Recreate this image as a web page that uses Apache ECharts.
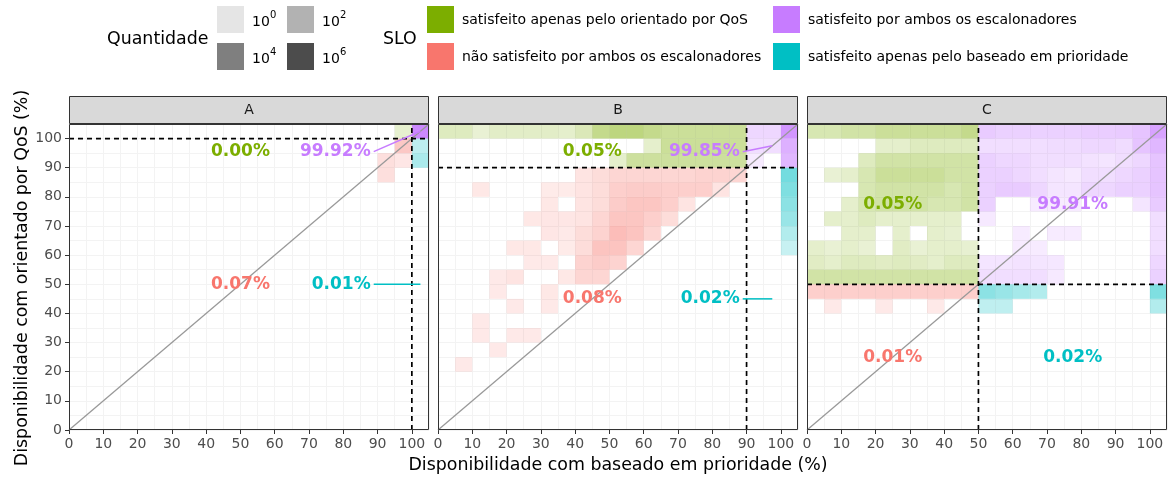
<!DOCTYPE html>
<html>
<head>
<meta charset="utf-8">
<script src="https://cdn.jsdelivr.net/npm/echarts@6/dist/echarts.min.js"></script>
<style>
    html, body { margin: 0; padding: 0; background: #fff; }
    #chart { width: 1170px; height: 478px; }
</style>
</head>
<body>
<div id="chart"></div>
<script>
    // facetas e limiar de SLO de cada uma
    const panelNames = ['A', 'B', 'C'];
    const sloLimits = [100, 90, 50];
    const binWidth = 5;
    const axisMax = 105;
    const tickValues = [0, 10, 20, 30, 40, 50, 60, 70, 80, 90, 100];
    const qtyLevels = [0, 2, 4, 6]; // log10 da quantidade na legenda

    // tiles: [x, y, log10(quantidade)]
    const tilesA = [
        [95, 100, 0.9], [100, 100, 8],
        [95, 95, 3], [100, 95, 1.6],
        [90, 90, 1.3], [95, 90, 0.8], [100, 90, 2.3],
        [90, 85, 1.3]
    ];
    const tilesB = [
        [0, 100, 1.5], [5, 100, 1.5], [10, 100, 0.7], [15, 100, 1.2], [20, 100, 1.2], [25, 100, 1.2], [30, 100, 1.2],
        [35, 100, 1], [40, 100, 1.8], [45, 100, 3.5], [50, 100, 4], [55, 100, 4], [60, 100, 3.5], [65, 100, 3],
        [70, 100, 3], [75, 100, 3], [80, 100, 3], [85, 100, 3], [90, 100, 2], [95, 100, 2], [100, 100, 7],
        [60, 95, 1], [65, 95, 3], [70, 95, 3], [75, 95, 3], [80, 95, 3], [85, 95, 3],
        [90, 95, 1.5], [95, 95, 1.5], [100, 95, 5],
        [50, 90, 1], [55, 90, 2.8], [60, 90, 2.8], [65, 90, 2.8], [70, 90, 2.8], [75, 90, 2.8], [80, 90, 2.8],
        [85, 90, 2.8], [90, 90, 0.5], [100, 90, 4.5],
        [40, 85, 1], [45, 85, 1.5], [50, 85, 2], [55, 85, 2], [60, 85, 2], [65, 85, 2], [70, 85, 2],
        [75, 85, 2.2], [80, 85, 2.2], [85, 85, 2], [100, 85, 4.5],
        [10, 80, 0.7], [30, 80, 0.5], [35, 80, 0.5], [40, 80, 1], [45, 80, 1.5], [50, 80, 2.5], [55, 80, 2.7],
        [60, 80, 2.7], [65, 80, 2.5], [70, 80, 2.5], [75, 80, 2.5], [80, 80, 1], [100, 80, 4],
        [30, 75, 0.7], [40, 75, 1], [45, 75, 1.5], [50, 75, 2.7], [55, 75, 3.2], [60, 75, 3.2], [65, 75, 2.5],
        [70, 75, 1], [100, 75, 3.5],
        [25, 70, 0.7], [30, 70, 0.8], [35, 70, 0.8], [40, 70, 1], [45, 70, 2], [50, 70, 3.2], [55, 70, 3.2],
        [60, 70, 2.5], [65, 70, 1.5], [100, 70, 3],
        [30, 65, 0.8], [35, 65, 0.6], [40, 65, 1.5], [45, 65, 2.2], [50, 65, 3.8], [55, 65, 3.3], [60, 65, 2],
        [100, 65, 2],
        [20, 60, 0.7], [25, 60, 0.7], [35, 60, 0.5], [40, 60, 1.5], [45, 60, 3.3], [50, 60, 3.3], [55, 60, 2],
        [100, 60, 1.2],
        [25, 55, 0.6], [30, 55, 0.6], [40, 55, 2.2], [45, 55, 2.7], [50, 55, 2.2],
        [15, 50, 0.6], [20, 50, 1], [35, 50, 0.7], [40, 50, 2], [45, 50, 2],
        [15, 45, 0.6], [30, 45, 0.7],
        [20, 40, 0.6], [30, 40, 0.6],
        [10, 35, 0.6],
        [10, 30, 0.6], [20, 30, 0.6], [25, 30, 0.6],
        [15, 25, 0.6],
        [5, 20, 0.6]
    ];
    const tilesC = [
        [0, 100, 2], [5, 100, 2], [10, 100, 2.5], [15, 100, 2.5], [20, 100, 3], [25, 100, 3], [30, 100, 3],
        [35, 100, 3], [40, 100, 3], [45, 100, 3.5],
        [50, 100, 3], [55, 100, 2.5], [60, 100, 2.5], [65, 100, 2.5], [70, 100, 2.5], [75, 100, 2.5],
        [80, 100, 2.8], [85, 100, 2.8], [90, 100, 3], [95, 100, 3.5], [100, 100, 6],
        [20, 95, 1], [25, 95, 1], [30, 95, 1.5], [35, 95, 1.5], [40, 95, 1.5], [45, 95, 1.5],
        [50, 95, 1.5], [55, 95, 1.5], [60, 95, 1.5], [65, 95, 1.5], [70, 95, 1.7], [75, 95, 1.7],
        [80, 95, 2], [85, 95, 2], [90, 95, 1.7], [95, 95, 3.5], [100, 95, 4.5],
        [15, 90, 1.5], [20, 90, 2.5], [25, 90, 2.5], [30, 90, 2.5], [35, 90, 2.5], [40, 90, 2.5], [45, 90, 2.5],
        [50, 90, 2.5], [55, 90, 2], [60, 90, 2], [65, 90, 1.5], [70, 90, 1.5], [75, 90, 1.5], [80, 90, 1.2],
        [85, 90, 1], [90, 90, 1.5], [95, 90, 2], [100, 90, 3.5],
        [5, 85, 0.7], [10, 85, 1], [15, 85, 2], [20, 85, 3], [25, 85, 3], [30, 85, 3], [35, 85, 3],
        [40, 85, 2.5], [45, 85, 2.5],
        [50, 85, 2.5], [55, 85, 2.5], [60, 85, 2], [65, 85, 1.5], [70, 85, 1], [75, 85, 0.7], [80, 85, 1.5],
        [85, 85, 1.5], [90, 85, 2], [95, 85, 2.5], [100, 85, 3.5],
        [15, 80, 2], [20, 80, 2.5], [25, 80, 2.5], [30, 80, 2.5], [35, 80, 2.5], [40, 80, 2], [45, 80, 2.5],
        [50, 80, 2.5], [55, 80, 3], [60, 80, 3], [65, 80, 2], [70, 80, 1], [75, 80, 1], [80, 80, 2],
        [85, 80, 2], [90, 80, 2.5], [95, 80, 2.5], [100, 80, 3.5],
        [10, 75, 1], [15, 75, 2], [20, 75, 2.5], [25, 75, 2.5], [30, 75, 2.5], [35, 75, 2], [40, 75, 2],
        [45, 75, 2.5],
        [50, 75, 2.5], [65, 75, 0.5], [70, 75, 0.5], [75, 75, 0.5], [95, 75, 1], [100, 75, 3],
        [5, 70, 1], [10, 70, 1], [15, 70, 1.5], [20, 70, 1], [25, 70, 1], [30, 70, 1], [35, 70, 1], [40, 70, 1],
        [50, 70, 0.7], [100, 70, 1.5],
        [10, 65, 1], [15, 65, 1], [25, 65, 1], [35, 65, 1], [40, 65, 0.8],
        [60, 65, 0.5], [70, 65, 0.5], [75, 65, 0.5], [100, 65, 1.5],
        [0, 60, 1], [5, 60, 0.7], [10, 60, 1], [15, 60, 0.7], [25, 60, 1.3], [30, 60, 0.7], [35, 60, 1],
        [40, 60, 1], [45, 60, 0.8],
        [60, 60, 0.5], [65, 60, 0.5], [100, 60, 1.5],
        [0, 55, 1.3], [5, 55, 1], [10, 55, 1.5], [15, 55, 1.5], [20, 55, 1.3], [25, 55, 1.5], [30, 55, 1.3],
        [35, 55, 1], [40, 55, 1.5], [45, 55, 1.5],
        [50, 55, 1], [55, 55, 1], [60, 55, 1.2], [65, 55, 1], [70, 55, 0.8], [100, 55, 2],
        [0, 50, 2.5], [5, 50, 2.5], [10, 50, 2.5], [15, 50, 2.5], [20, 50, 2.5], [25, 50, 2.5], [30, 50, 2.5],
        [35, 50, 2.5], [40, 50, 2.5], [45, 50, 2.5],
        [50, 50, 1.5], [55, 50, 1.5], [60, 50, 1.5], [65, 50, 1.5], [70, 50, 0.7], [100, 50, 2.5],
        [0, 45, 2.5], [5, 45, 2.5], [10, 45, 2.5], [15, 45, 2.5], [20, 45, 2.5], [25, 45, 2.5], [30, 45, 2.5],
        [35, 45, 2.5], [40, 45, 2.5], [45, 45, 2.5],
        [50, 45, 3.5], [55, 45, 3], [60, 45, 2.5], [65, 45, 2], [100, 45, 4],
        [5, 40, 0.6], [20, 40, 0.6], [35, 40, 0.6],
        [50, 40, 1.5], [55, 40, 1.5], [100, 40, 2]
    ];

    // rótulos: [texto, classe, x, y, alinhamento, destino x, destino y]
    const labelsA = [
        ['0.00%', 'green', 50, 95.5, 'center'],
        ['99.92%', 'purple', 88, 95.5, 'right', 102.5, 102.5],
        ['0.07%', 'red', 50, 50, 'center'],
        ['0.01%', 'cyan', 88, 50, 'right', 102.5, 50]
    ];
    const labelsB = [
        ['0.05%', 'green', 45, 95.5, 'center'],
        ['99.85%', 'purple', 88, 95.5, 'right', 97.5, 97.5],
        ['0.08%', 'red', 45, 45, 'center'],
        ['0.02%', 'cyan', 88, 45, 'right', 97.5, 45]
    ];
    const labelsC = [
        ['0.05%', 'green', 25, 77.5, 'center'],
        ['99.91%', 'purple', 77.5, 77.5, 'center'],
        ['0.01%', 'red', 25, 25, 'center'],
        ['0.02%', 'cyan', 77.5, 25, 'center']
    ];

    const sloNames = {
        green: 'satisfeito apenas pelo orientado por QoS',
        red: 'não satisfeito por ambos os escalonadores',
        purple: 'satisfeito por ambos os escalonadores',
        cyan: 'satisfeito apenas pelo baseado em prioridade'
    };
    const sloColors = { green: '#7CAE00', red: '#F8766D', purple: '#C77CFF', cyan: '#00BFC4' };

    const tilesByPanel = [tilesA, tilesB, tilesC];
    const labelsByPanel = [labelsA, labelsB, labelsC];

    const font = "'DejaVu Sans', sans-serif";
    const grids = [
        { left: 69, top: 124, width: 360, height: 306 },
        { left: 438, top: 124, width: 360, height: 306 },
        { left: 807, top: 124, width: 360, height: 306 }
    ];

    function sloClass (x, y, slo) {
        if (x >= slo) return y >= slo ? 'purple' : 'cyan';
        return y >= slo ? 'green' : 'red';
    }
    function levelAlpha (level) {
        return Math.min(1, 0.1 + 0.1 * level);
    }
    function rgba (hex, a) {
        const n = parseInt(hex.slice(1), 16);
        return 'rgba(' + (n >> 16) + ',' + ((n >> 8) & 255) + ',' + (n & 255) + ',' + a + ')';
    }

    const xAxis = [];
    const yAxis = [];
    const series = [];
    const graphic = [];

    grids.forEach((g, i) => {
        const slo = sloLimits[i];
        // eixo principal (rótulos, marcas e grade maior)
        xAxis.push({
            gridIndex: i, type: 'value', min: 0, max: axisMax, interval: 10,
            axisLine: { show: false },
            axisTick: { show: true, length: 4, customValues: tickValues, lineStyle: { color: '#333333' } },
            axisLabel: { customValues: tickValues, color: '#4D4D4D', fontSize: 14, fontFamily: font, margin: 7 },
            splitLine: { show: true, lineStyle: { color: '#EBEBEB', width: 1 } }
        });
        // eixo só para a grade menor (a cada 5)
        xAxis.push({
            gridIndex: i, type: 'value', min: 0, max: axisMax, interval: binWidth, position: 'top',
            axisLine: { show: false }, axisTick: { show: false }, axisLabel: { show: false },
            splitLine: { show: true, lineStyle: { color: '#F3F3F3', width: 1 } }
        });
        yAxis.push({
            gridIndex: i, type: 'value', min: 0, max: axisMax, interval: 10,
            axisLine: { show: false },
            axisTick: { show: i === 0, length: 4, customValues: tickValues, lineStyle: { color: '#333333' } },
            axisLabel: { show: i === 0, customValues: tickValues, color: '#4D4D4D', fontSize: 14, fontFamily: font, margin: 7 },
            splitLine: { show: true, lineStyle: { color: '#EBEBEB', width: 1 } }
        });
        yAxis.push({
            gridIndex: i, type: 'value', min: 0, max: axisMax, interval: binWidth, position: 'right',
            axisLine: { show: false }, axisTick: { show: false }, axisLabel: { show: false },
            splitLine: { show: true, lineStyle: { color: '#F3F3F3', width: 1 } }
        });

        const xi = 2 * i, yi = 2 * i;

        series.push({
            type: 'custom',
            xAxisIndex: xi, yAxisIndex: yi,
            data: tilesByPanel[i],
            z: 2,
            silent: true,
            renderItem (params, api) {
                const x0 = api.value(0), y0 = api.value(1);
                const p0 = api.coord([x0, y0]);
                const p1 = api.coord([x0 + binWidth, y0 + binWidth]);
                const color = sloColors[sloClass(x0, y0, slo)];
                return {
                    type: 'rect',
                    shape: { x: p0[0], y: p1[1], width: p1[0] - p0[0], height: p0[1] - p1[1] },
                    style: { fill: rgba(color, levelAlpha(api.value(2))) }
                };
            }
        });

        series.push({
            type: 'line', xAxisIndex: xi, yAxisIndex: yi, z: 3, silent: true,
            showSymbol: false, symbol: 'none',
            data: [[0, 0], [axisMax, axisMax]],
            lineStyle: { color: '#999999', width: 1.3 }
        });
        series.push({
            type: 'line', xAxisIndex: xi, yAxisIndex: yi, z: 4, silent: true,
            showSymbol: false, symbol: 'none',
            data: [[slo, 0], [slo, axisMax]],
            lineStyle: { color: '#000000', width: 1.7, type: [5, 4] }
        });
        series.push({
            type: 'line', xAxisIndex: xi, yAxisIndex: yi, z: 4, silent: true,
            showSymbol: false, symbol: 'none',
            data: [[0, slo], [axisMax, slo]],
            lineStyle: { color: '#000000', width: 1.7, type: [5, 4] }
        });

        const labels = labelsByPanel[i];
        series.push({
            type: 'custom',
            xAxisIndex: xi, yAxisIndex: yi, z: 5, silent: true,
            data: labels.map(l => [l[2], l[3]]),
            renderItem (params, api) {
                const l = labels[params.dataIndex];
                const color = sloColors[l[1]];
                const p = api.coord([l[2], l[3]]);
                const children = [{
                    type: 'text', x: p[0], y: p[1],
                    style: {
                        text: l[0], fill: color, align: l[4], verticalAlign: 'middle',
                        font: 'bold 17px ' + font
                    }
                }];
                if (l.length > 5) {
                    const t = api.coord([l[5], l[6]]);
                    children.unshift({
                        type: 'line',
                        shape: { x1: p[0] + 3, y1: p[1], x2: t[0], y2: t[1] },
                        style: { stroke: color, lineWidth: 1.5 }
                    });
                }
                return { type: 'group', children };
            }
        });

        // borda do painel e faixa do título
        graphic.push({
            type: 'rect', z: 100, silent: true,
            shape: { x: g.left + 0.5, y: g.top + 0.5, width: g.width - 1, height: g.height - 1 },
            style: { fill: null, stroke: '#333333', lineWidth: 1 }
        });
        graphic.push({
            type: 'rect', z: 100, silent: true,
            shape: { x: g.left + 0.5, y: 96.5, width: g.width - 1, height: 27 },
            style: { fill: '#D9D9D9', stroke: '#333333', lineWidth: 1 }
        });
        graphic.push({
            type: 'text', z: 101, silent: true,
            x: g.left + g.width / 2, y: 110,
            style: { text: panelNames[i], fill: '#1A1A1A', font: '14px ' + font, align: 'center', verticalAlign: 'middle' }
        });
    });

    // títulos dos eixos
    graphic.push({
        type: 'text', silent: true, x: 618, y: 465,
        style: { text: 'Disponibilidade com baseado em prioridade (%)', fill: '#000', font: '17.4px ' + font, align: 'center', verticalAlign: 'middle' }
    });
    graphic.push({
        type: 'text', silent: true, x: 22, y: 278, rotation: Math.PI / 2,
        style: { text: 'Disponibilidade com orientado por QoS (%)', fill: '#000', font: '17.4px ' + font, align: 'center', verticalAlign: 'middle' }
    });

    // legenda Quantidade
    graphic.push({
        type: 'text', silent: true, x: 107, y: 39,
        style: { text: 'Quantidade', fill: '#000', font: '17.4px ' + font, verticalAlign: 'middle' }
    });
    const qtyPos = [[217, 6], [287, 6], [217, 43], [287, 43]];
    qtyLevels.forEach((lv, k) => {
        const [kx, ky] = qtyPos[k];
        graphic.push({
            type: 'rect', silent: true,
            shape: { x: kx, y: ky, width: 27, height: 27 },
            style: { fill: 'rgba(0,0,0,' + levelAlpha(lv) + ')' }
        });
        graphic.push({
            type: 'text', silent: true, x: kx + 35, y: ky + 16,
            style: { text: '10', fill: '#000', font: '14px ' + font, verticalAlign: 'middle' }
        });
        graphic.push({
            type: 'text', silent: true, x: kx + 53, y: ky + 9,
            style: { text: String(lv), fill: '#000', font: '10px ' + font, verticalAlign: 'middle' }
        });
    });

    // legenda SLO
    graphic.push({
        type: 'text', silent: true, x: 383, y: 39,
        style: { text: 'SLO', fill: '#000', font: '17.4px ' + font, verticalAlign: 'middle' }
    });
    const sloOrder = [['green', 427, 6], ['red', 427, 43], ['purple', 773, 6], ['cyan', 773, 43]];
    sloOrder.forEach(([cls, kx, ky]) => {
        graphic.push({
            type: 'rect', silent: true,
            shape: { x: kx, y: ky, width: 27, height: 27 },
            style: { fill: sloColors[cls] }
        });
        graphic.push({
            type: 'text', silent: true, x: kx + 35, y: ky + 14,
            style: { text: sloNames[cls], fill: '#000', font: '14px ' + font, verticalAlign: 'middle' }
        });
    });

    const chart = echarts.init(document.getElementById('chart'));
    chart.setOption({
        animation: false,
        backgroundColor: '#FFFFFF',
        grid: grids.map(g => Object.assign({ containLabel: false }, g)),
        xAxis: xAxis,
        yAxis: yAxis,
        series: series,
        graphic: graphic
    });
</script>
</body>
</html>
